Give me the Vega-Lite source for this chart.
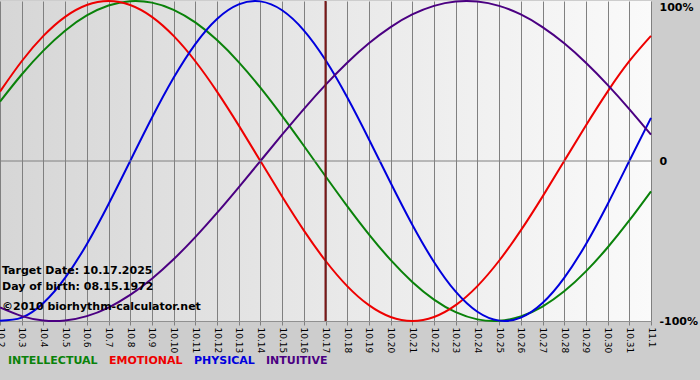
{
  "$schema": "https://vega.github.io/schema/vega-lite/v6.json",
  "width": 651,
  "height": 320,
  "autosize": {"type": "none"},
  "padding": {"left": 0, "top": 1, "right": 49, "bottom": 59},
  "background": "#cdcdcd",
  "datasets": {
    "bio": [
      {"date": "10.2", "INTELLECTUAL": 0.3717, "EMOTIONAL": 0.4339, "PHYSICAL": -0.9977, "INTUITIVE": -0.9158},
      {"date": "10.3", "INTELLECTUAL": 0.5406, "EMOTIONAL": 0.6235, "PHYSICAL": -0.9791, "INTUITIVE": -0.9694},
      {"date": "10.4", "INTELLECTUAL": 0.6901, "EMOTIONAL": 0.7818, "PHYSICAL": -0.8879, "INTUITIVE": -0.9966},
      {"date": "10.5", "INTELLECTUAL": 0.8146, "EMOTIONAL": 0.9010, "PHYSICAL": -0.7308, "INTUITIVE": -0.9966},
      {"date": "10.6", "INTELLECTUAL": 0.9096, "EMOTIONAL": 0.9749, "PHYSICAL": -0.5196, "INTUITIVE": -0.9694},
      {"date": "10.7", "INTELLECTUAL": 0.9718, "EMOTIONAL": 1.0, "PHYSICAL": -0.2698, "INTUITIVE": -0.9158},
      {"date": "10.8", "INTELLECTUAL": 0.9989, "EMOTIONAL": 0.9749, "PHYSICAL": 0.0, "INTUITIVE": -0.8372},
      {"date": "10.9", "INTELLECTUAL": 0.9898, "EMOTIONAL": 0.9010, "PHYSICAL": 0.2698, "INTUITIVE": -0.7357},
      {"date": "10.10", "INTELLECTUAL": 0.9450, "EMOTIONAL": 0.7818, "PHYSICAL": 0.5196, "INTUITIVE": -0.6142},
      {"date": "10.11", "INTELLECTUAL": 0.8660, "EMOTIONAL": 0.6235, "PHYSICAL": 0.7308, "INTUITIVE": -0.4759},
      {"date": "10.12", "INTELLECTUAL": 0.7557, "EMOTIONAL": 0.4339, "PHYSICAL": 0.8879, "INTUITIVE": -0.3247},
      {"date": "10.13", "INTELLECTUAL": 0.6182, "EMOTIONAL": 0.2225, "PHYSICAL": 0.9791, "INTUITIVE": -0.1646},
      {"date": "10.14", "INTELLECTUAL": 0.4582, "EMOTIONAL": 0.0, "PHYSICAL": 0.9977, "INTUITIVE": 0.0},
      {"date": "10.15", "INTELLECTUAL": 0.2817, "EMOTIONAL": -0.2225, "PHYSICAL": 0.9423, "INTUITIVE": 0.1646},
      {"date": "10.16", "INTELLECTUAL": 0.0951, "EMOTIONAL": -0.4339, "PHYSICAL": 0.8170, "INTUITIVE": 0.3247},
      {"date": "10.17", "INTELLECTUAL": -0.0951, "EMOTIONAL": -0.6235, "PHYSICAL": 0.6311, "INTUITIVE": 0.4759},
      {"date": "10.18", "INTELLECTUAL": -0.2817, "EMOTIONAL": -0.7818, "PHYSICAL": 0.3984, "INTUITIVE": 0.6142},
      {"date": "10.19", "INTELLECTUAL": -0.4582, "EMOTIONAL": -0.9010, "PHYSICAL": 0.1362, "INTUITIVE": 0.7357},
      {"date": "10.20", "INTELLECTUAL": -0.6182, "EMOTIONAL": -0.9749, "PHYSICAL": -0.1362, "INTUITIVE": 0.8372},
      {"date": "10.21", "INTELLECTUAL": -0.7557, "EMOTIONAL": -1.0, "PHYSICAL": -0.3984, "INTUITIVE": 0.9158},
      {"date": "10.22", "INTELLECTUAL": -0.8660, "EMOTIONAL": -0.9749, "PHYSICAL": -0.6311, "INTUITIVE": 0.9694},
      {"date": "10.23", "INTELLECTUAL": -0.9450, "EMOTIONAL": -0.9010, "PHYSICAL": -0.8170, "INTUITIVE": 0.9966},
      {"date": "10.24", "INTELLECTUAL": -0.9898, "EMOTIONAL": -0.7818, "PHYSICAL": -0.9423, "INTUITIVE": 0.9966},
      {"date": "10.25", "INTELLECTUAL": -0.9989, "EMOTIONAL": -0.6235, "PHYSICAL": -0.9977, "INTUITIVE": 0.9694},
      {"date": "10.26", "INTELLECTUAL": -0.9718, "EMOTIONAL": -0.4339, "PHYSICAL": -0.9791, "INTUITIVE": 0.9158},
      {"date": "10.27", "INTELLECTUAL": -0.9096, "EMOTIONAL": -0.2225, "PHYSICAL": -0.8879, "INTUITIVE": 0.8372},
      {"date": "10.28", "INTELLECTUAL": -0.8146, "EMOTIONAL": 0.0, "PHYSICAL": -0.7308, "INTUITIVE": 0.7357},
      {"date": "10.29", "INTELLECTUAL": -0.6901, "EMOTIONAL": 0.2225, "PHYSICAL": -0.5196, "INTUITIVE": 0.6142},
      {"date": "10.30", "INTELLECTUAL": -0.5406, "EMOTIONAL": 0.4339, "PHYSICAL": -0.2698, "INTUITIVE": 0.4759},
      {"date": "10.31", "INTELLECTUAL": -0.3717, "EMOTIONAL": 0.6235, "PHYSICAL": 0.0, "INTUITIVE": 0.3247},
      {"date": "11.1", "INTELLECTUAL": -0.1893, "EMOTIONAL": 0.7818, "PHYSICAL": 0.2698, "INTUITIVE": 0.1646}
    ]
  },
  "layer": [
    {
      "data": {"name": "bio"},
      "transform": [{"fold": ["INTELLECTUAL", "EMOTIONAL", "PHYSICAL", "INTUITIVE"], "as": ["series", "value"]}],
      "mark": {"type": "line", "interpolate": "natural", "strokeWidth": 2},
      "encoding": {
        "x": {
          "field": "date", "type": "ordinal",
          "scale": {"type": "point", "padding": 0, "domain": ["10.2","10.3","10.4","10.5","10.6","10.7","10.8","10.9","10.10","10.11","10.12","10.13","10.14","10.15","10.16","10.17","10.18","10.19","10.20","10.21","10.22","10.23","10.24","10.25","10.26","10.27","10.28","10.29","10.30","10.31","11.1"]},
          "axis": {
            "title": null, "labelAngle": 90, "labelAlign": "left", "labelBaseline": "middle",
            "labelFont": "DejaVu Sans", "labelFontSize": 9, "labelColor": "#000000", "labelPadding": 2,
            "grid": true, "gridColor": "#808080", "gridOpacity": 1, "gridWidth": 1,
            "tickColor": "#808080", "tickSize": 4, "domainColor": "#909090"
          }
        },
        "y": {
          "field": "value", "type": "quantitative",
          "scale": {"domain": [-1, 1], "nice": false, "zero": false},
          "axis": {
            "title": null, "orient": "right", "values": [-1, 0, 1],
            "labelExpr": "datum.value == 1 ? '100%' : (datum.value == 0 ? '0' : '-100%')",
            "labelBaseline": {"condition": {"test": "datum.value == 1", "value": "top"}, "value": "middle"},
            "grid": false, "ticks": false, "domain": false, "labelPadding": 8,
            "labelFont": "DejaVu Sans", "labelFontWeight": "bold", "labelFontSize": 11, "labelColor": "#000000"
          }
        },
        "color": {
          "field": "series", "type": "nominal",
          "scale": {"domain": ["INTELLECTUAL", "EMOTIONAL", "PHYSICAL", "INTUITIVE"], "range": ["#0a820a", "#ee0000", "#0000dd", "#4b0082"]},
          "legend": {
            "orient": "none", "legendX": -3, "legendY": 354, "direction": "horizontal", "title": null,
            "symbolSize": 0, "symbolOpacity": 0, "symbolStrokeWidth": 0, "labelOffset": 0, "columnPadding": -3, "padding": 0,
            "labelFont": "DejaVu Sans", "labelFontWeight": "bold", "labelFontSize": 11,
            "encode": {"labels": {"update": {"fill": {"scale": "color", "field": "value"}}}}
          }
        }
      }
    },
    {
      "data": {"values": [{}]},
      "mark": {"type": "rule", "color": "#808080", "strokeWidth": 1},
      "encoding": {"y": {"datum": 0, "type": "quantitative"}}
    },
    {
      "data": {"values": [{}]},
      "mark": {"type": "rule", "color": "#7b1818", "strokeWidth": 2},
      "encoding": {"x": {"datum": "10.17", "type": "ordinal"}}
    },
    {
      "data": {"values": [{"label": "Target Date: 10.17.2025"}]},
      "mark": {"type": "text", "align": "left", "baseline": "middle", "dx": 2, "font": "DejaVu Sans", "fontWeight": "bold", "fontSize": 11, "color": "#000000"},
      "encoding": {"x": {"datum": "10.2", "type": "ordinal"}, "y": {"datum": -0.69, "type": "quantitative"}, "text": {"field": "label"}}
    },
    {
      "data": {"values": [{"label": "Day of birth: 08.15.1972"}]},
      "mark": {"type": "text", "align": "left", "baseline": "middle", "dx": 2, "font": "DejaVu Sans", "fontWeight": "bold", "fontSize": 11, "color": "#000000"},
      "encoding": {"x": {"datum": "10.2", "type": "ordinal"}, "y": {"datum": -0.79, "type": "quantitative"}, "text": {"field": "label"}}
    },
    {
      "data": {"values": [{"label": "©2010 biorhythm-calculator.net"}]},
      "mark": {"type": "text", "align": "left", "baseline": "middle", "dx": 2, "font": "DejaVu Sans", "fontWeight": "bold", "fontSize": 11, "color": "#000000"},
      "encoding": {"x": {"datum": "10.2", "type": "ordinal"}, "y": {"datum": -0.915, "type": "quantitative"}, "text": {"field": "label"}}
    }
  ],
  "config": {
    "view": {
      "stroke": null,
      "fill": {"gradient": "linear", "x1": 0, "y1": 0, "x2": 1, "y2": 0, "stops": [{"offset": 0, "color": "#d6d6d6"}, {"offset": 1, "color": "#fafafa"}]}
    }
  }
}
